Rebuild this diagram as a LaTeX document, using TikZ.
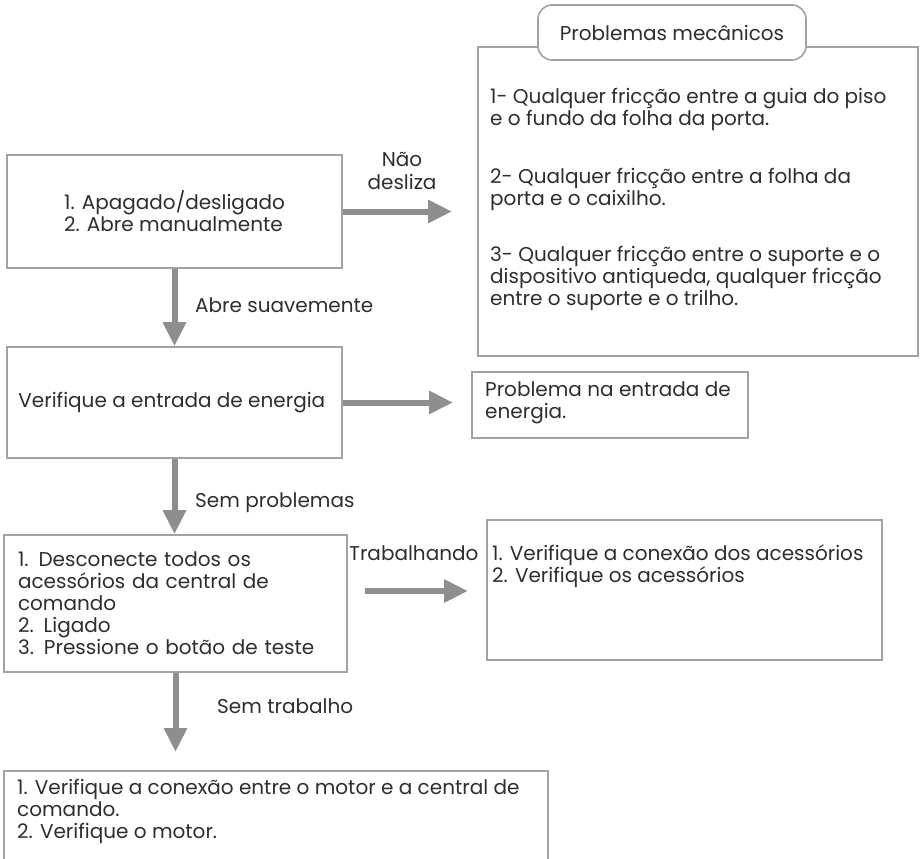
\documentclass[tikz,border=0pt]{standalone}
\usepackage{fontspec}
\setmainfont{Poppins}
\usepackage{tikz}
\usetikzlibrary{shapes,arrows,positioning,calc,arrows.meta}

\definecolor{boxgray}{HTML}{A2A2A4}
\definecolor{arrowgray}{HTML}{8E8E91}
\definecolor{txtgray}{HTML}{2E2E30}

\begin{document}
\begin{tikzpicture}[
        x=1pt, y=1pt,
        stepbox/.style={rectangle, draw=boxgray, line width=1.6pt, fill=white, inner sep=0pt, text=txtgray, align=left, font=\fontsize{20}{22}\selectfont},
        tabbox/.style={rectangle, draw=boxgray, line width=1.6pt, fill=white, rounded corners=14pt, text=txtgray, font=\fontsize{20}{22}\selectfont},
        boxtext/.style={inner sep=0pt, text=txtgray, align=left, anchor=north west, font=\fontsize{20}{22}\selectfont},
        flowlabel/.style={inner sep=0pt, text=txtgray, font=\fontsize{20}{23}\selectfont},
        flow/.style={line width=6pt, draw=arrowgray, -{Triangle[length=24pt, width=22pt]}}
        ]
        \useasboundingbox (0,0) rectangle (921,-859);

        % Step 1: power off, open by hand
        \node[stepbox, minimum width=335, minimum height=113] (power) at (174.5,-211.5) {
            1. Apagado/desligado\\
            2. Abre manualmente
        };

        % Step 2: power input
        \node[stepbox, minimum width=335, minimum height=111] (energy) at (174.5,-402.5) {
            Verifique a entrada de energia
        };

        % Step 3: test button
        \node[stepbox, minimum width=343, minimum height=137, text width=315] (test) at (175.5,-603.5) {
            1. Desconecte todos os\\
            acessórios da central de\\
            comando\\
            2. Ligado\\
            3. Pressione o botão de teste
        };

        % Step 4: motor (box runs past the bottom edge)
        \node[stepbox, minimum width=544, minimum height=120] (motor) at (276,-831) {};
        \node[boxtext] (motortxt) at (17,-779) {
            1. Verifique a conexão entre o motor e a central de\\
            comando.\\
            2. Verifique o motor.
        };

        % Result: mechanical problems
        \node[stepbox, minimum width=440, minimum height=309] (mech) at (698,-201.5) {};
        \node[tabbox, minimum width=268, minimum height=55] (mechtab) at (672,-32.5) {Problemas mecânicos};
        \node[boxtext] (mechtxt) at (490,-88) {
            1- Qualquer fricção entre a guia do piso\\
            e o fundo da folha da porta.\\[36pt]
            2- Qualquer fricção entre a folha da\\
            porta e o caixilho.\\[34pt]
            3- Qualquer fricção entre o suporte e o\\
            dispositivo antiqueda, qualquer fricção\\
            entre o suporte e o trilho.
        };

        % Result: power input problem
        \node[stepbox, minimum width=276, minimum height=66] (supply) at (610,-405) {};
        \node[boxtext] (supplytxt) at (485,-381) {
            Problema na entrada de\\
            energia.
        };

        % Result: accessories
        \node[stepbox, minimum width=395, minimum height=140] (acc) at (684.5,-590) {};
        \node[boxtext] (acctxt) at (492,-545) {
            1. Verifique a conexão dos acessórios\\
            2. Verifique os acessórios
        };

        % Free arrow ends
        \coordinate (powerend) at (452,-211.5);
        \coordinate (energyend) at (453,-402.5);
        \coordinate (workstart) at (365,-591);
        \coordinate (workend) at (468,-591);
        \coordinate (testend) at (175.5,-752);

        % Labels
        \node[flowlabel, align=center] (noslide) at (402,-171) {Não\\desliza};
        \node[flowlabel, anchor=west] (smooth) at (195,-305) {Abre suavemente};
        \node[flowlabel, anchor=west] (noproblem) at (195,-503) {Sem problemas};
        \node[flowlabel, anchor=west] (working) at (349,-553) {Trabalhando};
        \node[flowlabel, anchor=west] (notworking) at (217,-706) {Sem trabalho};

        % Connections
        \draw[flow] (power.east) -- (powerend);
        \draw[flow] (power.south) -- (energy.north);
        \draw[flow] (energy.east) -- (energyend);
        \draw[flow] (energy.south) -- (energy.south |- test.north);
        \draw[flow] (workstart) -- (workend);
        \draw[flow] (test.south) -- (testend);

    \end{tikzpicture}
\end{document}
